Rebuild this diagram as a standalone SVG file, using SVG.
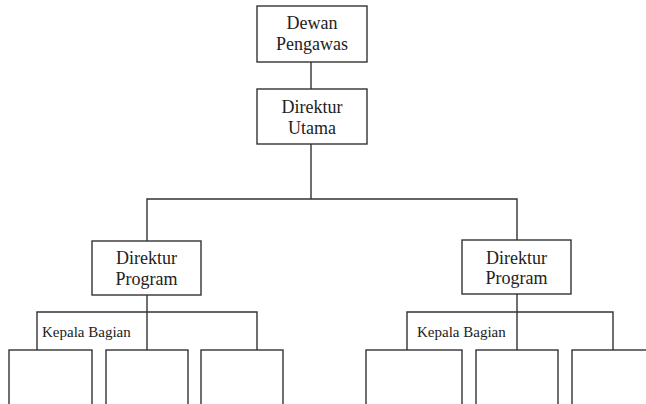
<svg xmlns="http://www.w3.org/2000/svg" width="646" height="404" viewBox="0 0 646 404">
<style>
.box{fill:#fff;stroke:#333;stroke-width:1.4}
.ln{fill:none;stroke:#333;stroke-width:1.4}
.t{font-family:'Liberation Serif','Times New Roman','DejaVu Serif',serif;font-size:18px;fill:#222;text-anchor:middle}
.s{font-family:'Liberation Serif','Times New Roman','DejaVu Serif',serif;font-size:15px;fill:#222}
</style>
<rect width="646" height="404" fill="#fff"/>
<g id="connectors">
<path class="ln" d="M311 62V89"/>
<path class="ln" d="M311 144V199"/>
<path class="ln" d="M147 241V199H517V240"/>
<path class="ln" d="M147 295V312"/>
<path class="ln" d="M37 350V312H257V350"/>
<path class="ln" d="M147 312V350"/>
<path class="ln" d="M517 294V312"/>
<path class="ln" d="M407 350V312H613V350"/>
<path class="ln" d="M517 312V350"/>
</g>
<g id="dewan-pengawas">
<rect class="box" x="257" y="6" width="110" height="56"/>
<text class="t" x="312" y="29">Dewan</text>
<text class="t" x="312" y="50">Pengawas</text>
</g>
<g id="direktur-utama">
<rect class="box" x="257" y="89" width="110" height="55"/>
<text class="t" x="312" y="113">Direktur</text>
<text class="t" x="312" y="134">Utama</text>
</g>
<g id="direktur-program-1">
<rect class="box" x="92" y="241" width="109" height="54"/>
<text class="t" x="146.5" y="264">Direktur</text>
<text class="t" x="146.5" y="285">Program</text>
</g>
<g id="direktur-program-2">
<rect class="box" x="462" y="240" width="109" height="54"/>
<text class="t" x="516.5" y="264">Direktur</text>
<text class="t" x="516.5" y="284">Program</text>
</g>
<g id="kepala-bagian-1">
<text class="s" x="42" y="337">Kepala Bagian</text>
</g>
<g id="bagian-1a"><rect class="box" x="9" y="350" width="83" height="70"/></g>
<g id="bagian-1b"><rect class="box" x="106" y="350" width="82" height="70"/></g>
<g id="bagian-1c"><rect class="box" x="201" y="350" width="82" height="70"/></g>
<g id="kepala-bagian-2">
<text class="s" x="417" y="337">Kepala Bagian</text>
</g>
<g id="bagian-2a"><rect class="box" x="366" y="350" width="96" height="70"/></g>
<g id="bagian-2b"><rect class="box" x="476" y="350" width="82" height="70"/></g>
<g id="bagian-2c"><rect class="box" x="572" y="350" width="90" height="70"/></g>
</svg>
